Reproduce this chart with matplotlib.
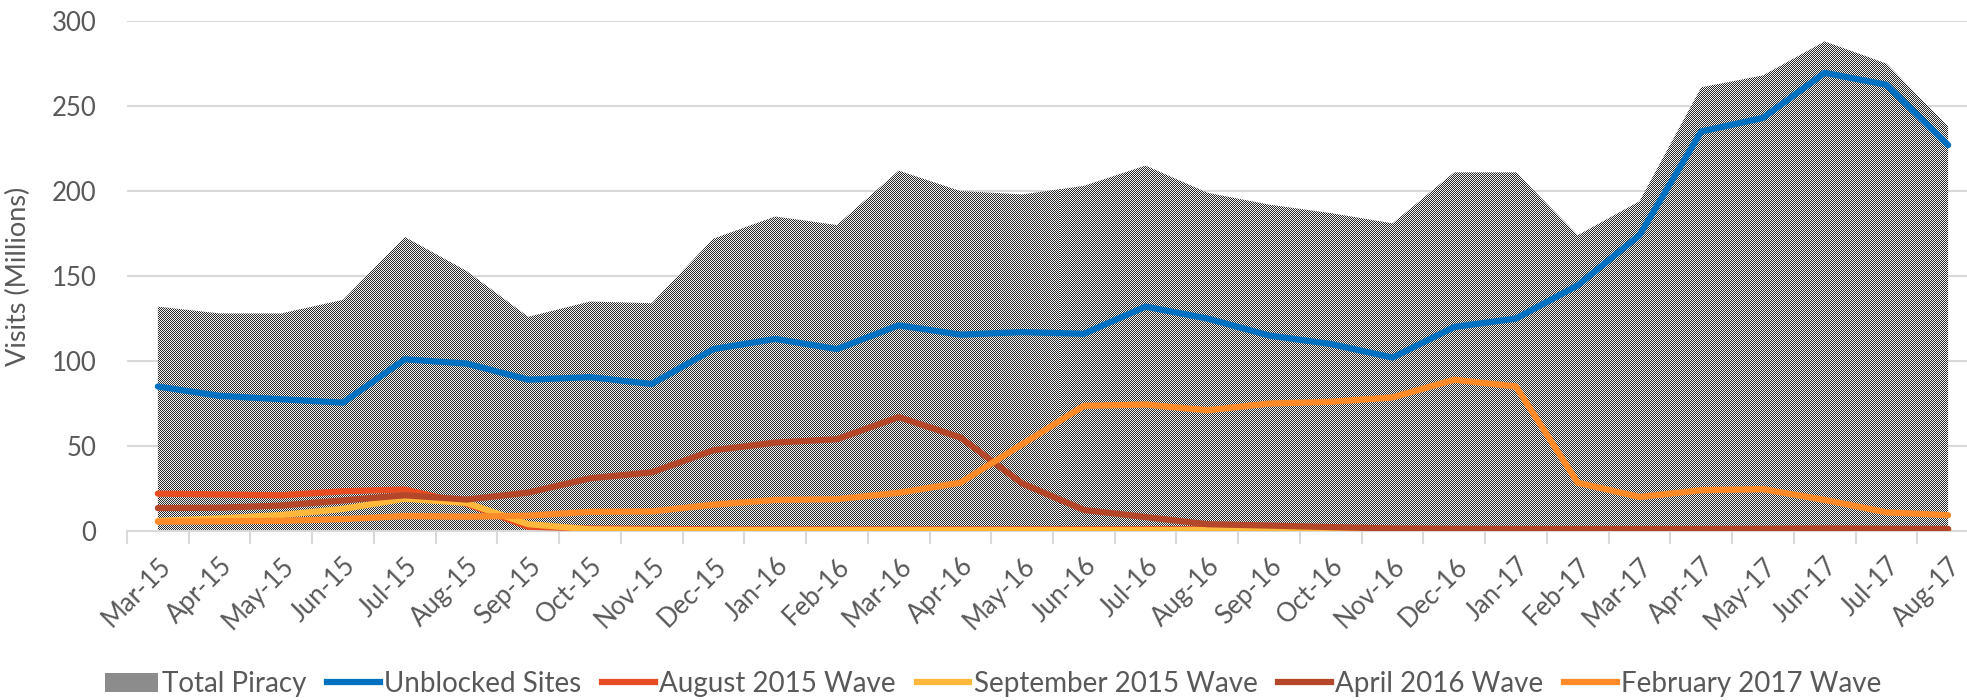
import matplotlib
matplotlib.use('Agg')
import matplotlib.pyplot as plt
from matplotlib.patches import Patch
from matplotlib.lines import Line2D
import numpy as np

plt.rcParams['font.family'] = ['Lato', 'DejaVu Sans']

months = ['Mar-15', 'Apr-15', 'May-15', 'Jun-15', 'Jul-15', 'Aug-15', 'Sep-15', 'Oct-15', 'Nov-15', 'Dec-15',
          'Jan-16', 'Feb-16', 'Mar-16', 'Apr-16', 'May-16', 'Jun-16', 'Jul-16', 'Aug-16', 'Sep-16', 'Oct-16',
          'Nov-16', 'Dec-16', 'Jan-17', 'Feb-17', 'Mar-17', 'Apr-17', 'May-17', 'Jun-17', 'Jul-17', 'Aug-17']

total_piracy = [132, 128, 128, 136, 173, 153, 126, 135, 134, 172,
                185, 180, 212, 200, 198, 203, 215, 199, 192, 187,
                181, 211, 211, 174, 194, 261, 268, 288, 275, 238]
unblocked = [85, 79.5, 77.5, 75.5, 101, 98.5, 89, 90.5, 86.5, 107,
             113, 107, 121, 115.5, 117, 116, 132, 125, 115, 110,
             102, 120, 125, 144.5, 174, 235, 243, 269.5, 262.5, 227]
aug_2015 = [22, 21.5, 21, 23.4, 24.4, 16, 2.5, 1.5, 1.2, 1,
            1, 1, 1, 1, 1, 1, 1, 1, 1, 1,
            1, 1, 1, 1, 1, 1, 1, 1, 1, 1]
sep_2015 = [5.9, 7.4, 9.4, 13, 19, 16.5, 4, 1, 0.6, 0.5,
            0.5, 0.5, 0.5, 0.5, 0.5, 0.5, 0.5, 0.5, 0.5, 0.5,
            0.5, 0.5, 0.5, 0.5, 0.5, 0.5, 0.5, 0.5, 0.5, 0.5]
apr_2016 = [13.5, 13.7, 15, 18, 21, 18.5, 22.6, 31, 34.5, 47.5,
            52, 54, 67, 55, 28, 12.4, 8.2, 4, 3.2, 2.3,
            1.5, 1.3, 1.2, 1.2, 1.2, 1.2, 1.3, 1.5, 1.3, 1.2]
feb_2017 = [5.5, 5.7, 6, 7, 8.8, 8.4, 9, 11.3, 11.5, 15.5,
            18.3, 18.7, 22.5, 28.4, 51, 73.6, 74.4, 71, 75, 76,
            78.6, 89, 85, 28.4, 20, 24, 24.6, 18.3, 11, 9.3]

grey_txt = '#595959'
grid_col = '#d9d9d9'

fig = plt.figure(figsize=(19.67, 7), dpi=100)
ax = fig.add_axes([127 / 1967, 1 - 531 / 700, (1979 - 127) / 1967, 510 / 700])

x = np.arange(len(months))
ax.set_xlim(-0.5, len(months) - 0.5)
ax.set_ylim(0, 300)

# dotted area (checkerboard clipped to the total piracy polygon)
poly = ax.fill_between(x, 0, total_piracy, facecolor='none', edgecolor='none')
bb = ax.get_window_extent()
h, w = int(round(bb.height)), int(round(bb.width))
yy, xx = np.mgrid[0:h, 0:w]
chk = ((xx + yy) % 2).astype(float)
rgb = np.where(chk[..., None] > 0, 0.96, 0.16) * np.ones(3)
im = ax.imshow(rgb, extent=(-0.5, len(months) - 0.5, 0, 300), aspect='auto',
               interpolation='none', zorder=1)
im.set_clip_path(poly.get_paths()[0], ax.transData)

lw = 4.5
ax.plot(x, unblocked, color='#0070C0', lw=lw, zorder=3, solid_capstyle='round')
ax.plot(x, aug_2015, color='#E84C22', lw=lw, zorder=3, solid_capstyle='round')
ax.plot(x, sep_2015, color='#FFB83C', lw=lw, zorder=3, solid_capstyle='round')
ax.plot(x, apr_2016, color='#B4472A', lw=lw, zorder=3, solid_capstyle='round')
ax.plot(x, feb_2017, color='#FF8A2A', lw=lw, zorder=3, solid_capstyle='round')

ax.set_yticks(range(0, 301, 50))
ax.grid(axis='y', color=grid_col, lw=1.5, zorder=0)
ax.set_axisbelow(True)
for s in ['top', 'right', 'left']:
    ax.spines[s].set_visible(False)
ax.spines['bottom'].set_color(grid_col)
ax.spines['bottom'].set_linewidth(1.5)
ax.tick_params(axis='y', length=0, labelsize=18.5, labelcolor=grey_txt, pad=22)

ax.set_xticks(x)
ax.set_xticklabels(months, rotation=45, ha='right', rotation_mode='anchor')
ax.set_xticks(np.arange(-0.5, len(months), 1), minor=True)
ax.tick_params(axis='x', which='major', length=0, labelsize=18.5, labelcolor=grey_txt, pad=16)
ax.tick_params(axis='x', which='minor', length=9, width=1.5, color=grid_col)

ax.set_ylabel('Visits (Millions)', fontsize=19.5, color=grey_txt)
ax.yaxis.set_label_coords(-0.052, 0.5)

handles = [Patch(facecolor='#8c8c8c', edgecolor='none'),
           Line2D([], [], color='#0070C0', lw=lw),
           Line2D([], [], color='#E84C22', lw=lw),
           Line2D([], [], color='#FFB83C', lw=lw),
           Line2D([], [], color='#B4472A', lw=lw),
           Line2D([], [], color='#FF8A2A', lw=lw)]
labels = ['Total Piracy', 'Unblocked Sites', 'August 2015 Wave', 'September 2015 Wave',
          'April 2016 Wave', 'February 2017 Wave']
leg = fig.legend(handles, labels, loc='center', bbox_to_anchor=(0.505, 1 - 684 / 700), ncol=6,
                 frameon=False, fontsize=20, handlelength=1.9, handletextpad=0.15,
                 columnspacing=0.75, labelcolor=grey_txt)

fig.savefig('out.png', dpi=100)
